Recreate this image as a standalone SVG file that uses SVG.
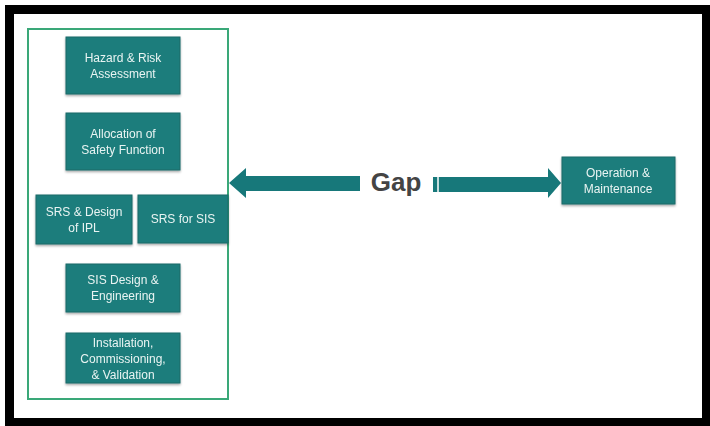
<svg xmlns="http://www.w3.org/2000/svg" width="710" height="426" viewBox="0 0 710 426">
<defs>
<style>
.box{fill:#1f7d7b;stroke:#1a6a68;stroke-width:1}
.lbl{font-family:"Liberation Sans",Arial,sans-serif;font-size:12px;fill:#e8f4f3;text-anchor:middle}
.arrow{fill:#17787a}
</style>
<filter id="sh" x="-10%" y="-10%" width="120%" height="130%">
<feDropShadow dx="0" dy="1.5" stdDeviation="1.2" flood-color="#000" flood-opacity="0.35"/>
</filter>
</defs>
<rect width="710" height="426" fill="#ffffff"/>
<rect x="9.5" y="9.5" width="697" height="413" fill="none" stroke="#000" stroke-width="9"/>
<rect id="phase-group" x="28" y="29" width="200" height="370" fill="none" stroke="#3aa878" stroke-width="2"/>

<g id="connectors">
<path class="arrow" d="M229,183 L246,168 L246,176 L360,176 L360,191 L246,191 L246,198 Z"/>
<path class="arrow" d="M433,177 L548,177 L548,168 L561,183 L548,198 L548,192 L433,192 Z"/>
<line x1="438" y1="176" x2="438" y2="193" stroke="#ffffff" stroke-width="1.5"/>
<text x="396" y="191" font-family="Liberation Sans,Arial,sans-serif" font-size="26" font-weight="bold" fill="#444" text-anchor="middle">Gap</text>
</g>

<g id="hazard" filter="url(#sh)">
<rect class="box" x="66" y="37" width="114" height="57"/>
<text class="lbl" x="123" y="62">Hazard &amp; Risk</text>
<text class="lbl" x="123" y="78">Assessment</text>
</g>
<g id="allocation" filter="url(#sh)">
<rect class="box" x="66" y="113" width="114" height="57"/>
<text class="lbl" x="123" y="138">Allocation of</text>
<text class="lbl" x="123" y="154">Safety Function</text>
</g>
<g id="srs-ipl" filter="url(#sh)">
<rect class="box" x="36" y="195" width="96" height="49"/>
<text class="lbl" x="84" y="216">SRS &amp; Design</text>
<text class="lbl" x="84" y="232">of IPL</text>
</g>
<g id="srs-sis" filter="url(#sh)">
<rect class="box" x="138" y="195" width="90" height="48"/>
<text class="lbl" x="183" y="223">SRS for SIS</text>
</g>
<g id="sis-design" filter="url(#sh)">
<rect class="box" x="66" y="264" width="114" height="48"/>
<text class="lbl" x="123" y="284">SIS Design &amp;</text>
<text class="lbl" x="123" y="300">Engineering</text>
</g>
<g id="installation" filter="url(#sh)">
<rect class="box" x="66" y="333" width="114" height="50"/>
<text class="lbl" x="123" y="347">Installation,</text>
<text class="lbl" x="123" y="363">Commissioning,</text>
<text class="lbl" x="123" y="379">&amp; Validation</text>
</g>
<g id="operation" filter="url(#sh)">
<rect class="box" x="562" y="157" width="113" height="47"/>
<text class="lbl" x="618" y="177">Operation &amp;</text>
<text class="lbl" x="618" y="193">Maintenance</text>
</g>
</svg>
